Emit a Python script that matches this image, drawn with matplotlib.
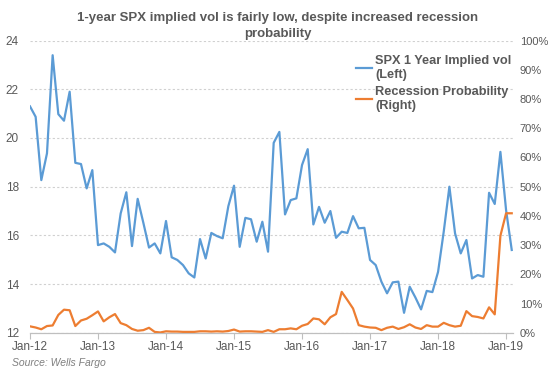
import numpy as np
import matplotlib
matplotlib.use("Agg")
import matplotlib.pyplot as plt
from matplotlib.ticker import FuncFormatter

plt.rcParams['font.family'] = ['Liberation Sans', 'DejaVu Sans']

# monthly values, Jan-12 .. Feb-19
vol = [21.3, 20.87, 18.27, 19.37, 23.4, 20.98, 20.71, 21.9, 18.98, 18.93,
       17.93, 18.68, 15.6, 15.67, 15.53, 15.3, 16.9, 17.77, 15.56, 17.5,
       16.52, 15.5, 15.67, 15.26, 16.59, 15.1, 14.99, 14.78, 14.44, 14.27,
       15.85, 15.05, 16.1, 15.97, 15.88, 17.2, 18.04, 15.53, 16.72, 16.66,
       15.74, 16.56, 15.33, 19.8, 20.25, 16.86, 17.45, 17.52, 18.89, 19.54,
       16.45, 17.17, 16.52, 17.0, 15.9, 16.15, 16.1, 16.79, 16.29, 16.31,
       14.99, 14.78, 14.1, 13.62, 14.07, 14.1, 12.82, 13.89, 13.45, 12.96,
       13.72, 13.67, 14.5, 16.15, 18.0, 16.08, 15.26, 15.81, 14.23, 14.37,
       14.3, 17.75, 17.29, 19.43, 17.04, 15.4]

prob = [2.2, 1.8, 1.2, 2.3, 2.5, 6.1, 7.9, 7.7, 2.3, 4.2,
        4.8, 6.0, 7.3, 3.9, 5.3, 6.4, 3.3, 2.6, 1.3, 0.7,
        0.9, 1.7, 0.3, 0.1, 0.5, 0.4, 0.4, 0.3, 0.3, 0.3,
        0.5, 0.5, 0.4, 0.5, 0.4, 0.6, 1.1, 0.4, 0.5, 0.5,
        0.4, 0.3, 0.9, 0.3, 1.2, 1.2, 1.5, 1.2, 2.4, 3.0,
        4.9, 4.6, 2.9, 5.3, 6.4, 14.0, 11.2, 8.3, 2.6, 2.1,
        1.8, 1.7, 0.9, 1.7, 2.1, 1.3, 1.9, 2.9, 1.8, 1.3,
        2.6, 2.1, 2.1, 3.4, 2.6, 2.1, 2.4, 7.4, 5.7, 5.4,
        4.9, 8.7, 6.3, 33.2, 40.9, 40.9]

tick_pos = [0, 12, 24, 36, 48, 60, 72, 84]
tick_labels = ["Jan-12", "Jan-13", "Jan-14", "Jan-15", "Jan-16", "Jan-17", "Jan-18", "Jan-19"]

x = np.arange(len(vol))
prob = np.array(prob) / 100.0

grey = "#595959"
fig = plt.figure(figsize=(5.5, 3.76), dpi=100)
ax = fig.add_axes([0.0545, 0.115, 0.878, 0.777])
ax2 = ax.twinx()

l1, = ax.plot(x, vol, color="#5B9BD5", lw=1.6, label="SPX 1 Year Implied vol\n(Left)")
l2, = ax2.plot(x, prob, color="#ED7D31", lw=1.6, label="Recession Probability\n(Right)")

ax.set_xlim(0, 85.2)
ax.set_ylim(12, 24)
ax.set_yticks(np.arange(12, 25, 2))
ax2.set_ylim(0, 1)
ax2.set_yticks(np.arange(0, 1.01, 0.1))
ax2.yaxis.set_major_formatter(FuncFormatter(lambda v, p: "%d%%" % round(v * 100)))

ax.set_xticks(tick_pos)
ax.set_xticklabels(tick_labels)

ax.grid(axis="y", color="#D0D0D0", ls=(0, (2, 2)), lw=0.8)
for a in (ax, ax2):
    for s in ("top", "left", "right"):
        a.spines[s].set_visible(False)
    a.spines["bottom"].set_color("#BFBFBF")
ax.tick_params(axis="x", length=4, color="#BFBFBF", labelsize=8.5, labelcolor=grey, pad=2)
ax.tick_params(axis="y", length=0, labelsize=8.5, labelcolor=grey, pad=8)
ax2.tick_params(axis="y", length=0, labelsize=8, labelcolor=grey, pad=5)

fig.text(0.505, 0.931, "1-year SPX implied vol is fairly low, despite increased recession\nprobability",
         ha="center", va="center", fontsize=9.5, fontweight="bold", color=grey, linespacing=1.45)

leg = fig.legend([l1, l2], [l1.get_label(), l2.get_label()], loc="upper left",
                 bbox_to_anchor=(0.626, 0.885), frameon=False, handlelength=1.3,
                 handletextpad=0.2, labelspacing=0.45, fontsize=9.2)
for t in leg.get_texts():
    t.set_color(grey)
    t.set_fontweight("bold")

fig.text(0.022, 0.035, "Source: Wells Fargo", fontsize=7.5, style="italic", color="#7F7F7F",
         ha="left", va="center")

fig.savefig("out.png", dpi=100)
